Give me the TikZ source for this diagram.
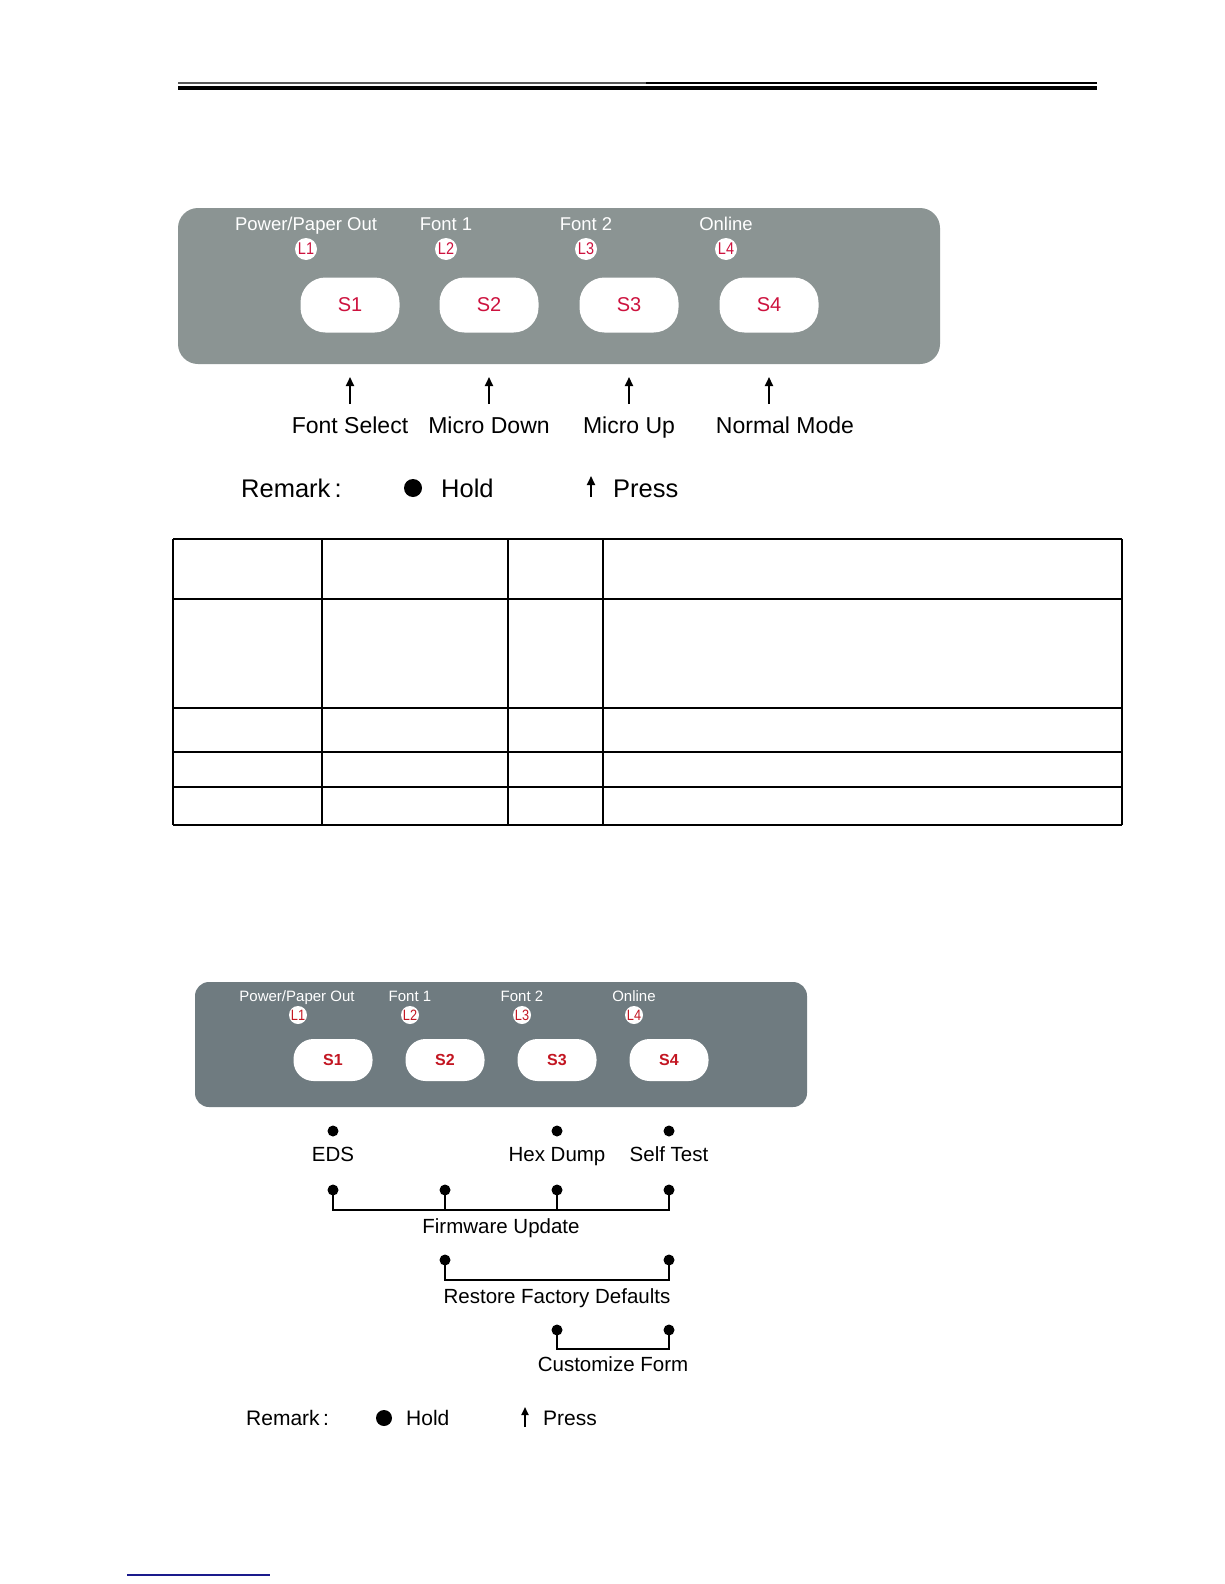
\documentclass[tikz,border=0pt]{standalone}
\usepackage{fontspec}
\setmainfont{Liberation Sans}
\usetikzlibrary{arrows.meta}
\definecolor{panelA}{RGB}{139,148,147}
\definecolor{panelB}{RGB}{111,123,128}
\definecolor{ledred}{RGB}{205,18,62}
\definecolor{btnred}{RGB}{195,22,34}
\definecolor{linkblue}{RGB}{26,26,140}
\begin{document}
\begin{tikzpicture}[x=1pt,y=-1pt,
  txt/.style={inner sep=0pt,text height=#1,text depth=0pt},
  led/.style={circle,fill=white,inner sep=0pt,minimum size=22pt,text=ledred,font=\fontsize{17}{17}\selectfont},
  ledsm/.style={circle,fill=white,inner sep=0pt,minimum size=18pt,text=btnred,font=\fontsize{15}{15}\selectfont},
  btn/.style={rectangle,rounded corners=25pt,fill=white,minimum width=99pt,minimum height=55pt,inner sep=0pt,text=ledred,font=\fontsize{20}{20}\selectfont},
  btnsm/.style={rectangle,rounded corners=20pt,fill=white,minimum width=79pt,minimum height=42pt,inner sep=0pt,text=btnred,font=\fontsize{16}{16}\selectfont},
  plab/.style={txt=13.3pt,text=white,font=\fontsize{18.5}{18.5}\selectfont},
  plabsm/.style={txt=10.8pt,text=white,font=\fontsize{15}{15}\selectfont},
  lab/.style={txt=16.5pt,font=\fontsize{23}{23}\selectfont},
  labsm/.style={txt=14.8pt,font=\fontsize{20.5}{20.5}\selectfont},
  rem/.style={txt=18.4pt,anchor=west,font=\fontsize{25.5}{25.5}\selectfont},
  remsm/.style={txt=15.1pt,anchor=west,font=\fontsize{21}{21}\selectfont},
  pressarrow/.style={-{Triangle[length=9pt,width=8pt]},line width=2pt},
  pressarrowsm/.style={-{Triangle[length=8pt,width=7pt]},line width=1.8pt},
  holddot/.style={circle,fill=black,inner sep=0pt,minimum size=#1},
  brk/.style={line width=2pt},
  hline/.style={line width=2pt},
  vline/.style={line width=1.3pt}
]
\useasboundingbox[fill=white] (0,0) rectangle (1224,1584);

% header rules
\draw[line width=2pt,black!65] (178,83) -- (646,83);
\draw[line width=2.5pt,black] (646,83) -- (1097,83);
\draw[line width=3.5pt,black] (178,88) -- (1097,88);

% ---------- top panel ----------
\fill[panelA,rounded corners=20pt] (178,208) rectangle (940,364);
\node[plab] (p1) at (306,224) {Power/Paper Out};
\node[plab] (p2) at (446,224) {Font 1};
\node[plab] (p3) at (586,224) {Font 2};
\node[plab] (p4) at (726,224) {Online};
\node[led] (l1) at (306,249) {\scalebox{0.85}[1]{L1}};
\node[led] (l2) at (446,249) {\scalebox{0.85}[1]{L2}};
\node[led] (l3) at (586,249) {\scalebox{0.85}[1]{L3}};
\node[led] (l4) at (726,249) {\scalebox{0.85}[1]{L4}};
\node[btn] (s1) at (350,305) {S1};
\node[btn] (s2) at (489,305) {S2};
\node[btn] (s3) at (629,305) {S3};
\node[btn] (s4) at (769,305) {S4};

\foreach \i/\x in {1/350,2/489,3/629,4/769}{
  \coordinate (ab\i) at (\x,404);
  \coordinate (at\i) at (\x,377);
  \draw[pressarrow] (ab\i) -- (at\i);
}
\node[lab] (f1) at (350,425) {Font Select};
\node[lab] (f2) at (489,425) {Micro Down};
\node[lab] (f3) at (629,425) {Micro Up};
\node[lab] (f4) at (785,425) {Normal Mode};

% remark top
\node[rem] (r1) at (241,488) {Remark\,:};
\node[holddot=18pt] (d1) at (413,488) {};
\node[rem] (h1) at (441,488) {Hold};
\coordinate (rpb) at (591,497);
\coordinate (rpt) at (591,476);
\draw[pressarrow] (rpb) -- (rpt);
\node[rem] (pr1) at (613,488) {Press};

% ---------- table ----------
\foreach \y in {539,599,708,752,787,825}{
  \draw[hline] (173,\y) -- (1122,\y);
}
\foreach \x in {173,322,603,1122}{
  \draw[vline] (\x,539) -- (\x,825);
}
\draw[line width=2.2pt] (508,539) -- (508,825);

% ---------- bottom panel ----------
\fill[panelB,rounded corners=14pt] (195,982) rectangle (807,1107);
\node[plabsm] (q1) at (297,996) {Power/Paper Out};
\node[plabsm] (q2) at (410,996) {Font 1};
\node[plabsm] (q3) at (522,996) {Font 2};
\node[plabsm] (q4) at (634,996) {Online};
\node[ledsm] (m1) at (298,1015) {\scalebox{0.85}[1]{L1}};
\node[ledsm] (m2) at (410,1015) {\scalebox{0.85}[1]{L2}};
\node[ledsm] (m3) at (522,1015) {\scalebox{0.85}[1]{L3}};
\node[ledsm] (m4) at (634,1015) {\scalebox{0.85}[1]{L4}};
\node[btnsm] (t1) at (333,1060) {\bfseries S1};
\node[btnsm] (t2) at (445,1060) {\bfseries S2};
\node[btnsm] (t3) at (557,1060) {\bfseries S3};
\node[btnsm] (t4) at (669,1060) {\bfseries S4};

% hold functions
\node[holddot=11pt] (e1) at (333,1131) {};
\node[holddot=11pt] (e3) at (557,1131) {};
\node[holddot=11pt] (e4) at (669,1131) {};
\node[labsm] (eds) at (333,1154) {EDS};
\node[labsm] (hex) at (557,1154) {Hex Dump};
\node[labsm] (st) at (669,1154) {Self Test};

% firmware update
\node[holddot=11pt] (g1) at (333,1190) {};
\node[holddot=11pt] (g2) at (445,1190) {};
\node[holddot=11pt] (g3) at (557,1190) {};
\node[holddot=11pt] (g4) at (669,1190) {};
\draw[brk] (g1.center) -- (333,1210) -- (669,1210) -- (g4.center);
\draw[brk] (g2.center) -- (445,1210);
\draw[brk] (g3.center) -- (557,1210);
\node[labsm] (fw) at (501,1226) {Firmware Update};

% restore factory defaults
\node[holddot=11pt] (k2) at (445,1260) {};
\node[holddot=11pt] (k4) at (669,1260) {};
\draw[brk] (k2.center) -- (445,1280) -- (669,1280) -- (k4.center);
\node[labsm] (rf) at (557,1296) {Restore Factory Defaults};

% customize form
\node[holddot=11pt] (c3) at (557,1330) {};
\node[holddot=11pt] (c4) at (669,1330) {};
\draw[brk] (c3.center) -- (557,1349) -- (669,1349) -- (c4.center);
\node[labsm] (cf) at (613,1364) {Customize Form};

% remark bottom
\node[remsm] (r2) at (246,1418) {Remark\,:};
\node[holddot=16pt] (d2) at (384,1418) {};
\node[remsm] (h2) at (406,1418) {Hold};
\coordinate (spb) at (525,1427);
\coordinate (spt) at (525,1407);
\draw[pressarrowsm] (spb) -- (spt);
\node[remsm] (pr2) at (543,1418) {Press};

% footer link line
\draw[line width=1.5pt,linkblue] (127,1575) -- (270,1575);
\end{tikzpicture}
\end{document}
